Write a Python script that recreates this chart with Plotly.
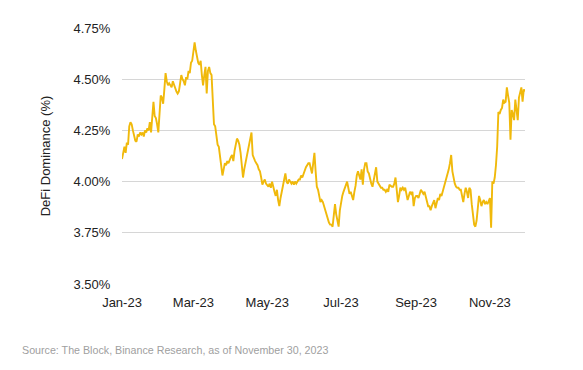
import pandas as pd
import plotly.graph_objects as go

# Daily DeFi dominance (%), Jan 1 - Nov 30, 2023
jan_vals = [4.11, 4.15, 4.17, 4.14, 4.19, 4.18, 4.27, 4.29, 4.28, 4.25, 4.23, 4.20, 4.195, 4.23, 4.22, 4.24,
            4.23, 4.24, 4.22, 4.25, 4.24, 4.26, 4.25, 4.29, 4.24, 4.33, 4.39, 4.32, 4.31, 4.28, 4.24]
feb_vals = [4.33, 4.42, 4.41, 4.38, 4.45, 4.53, 4.49, 4.47, 4.48, 4.47, 4.46, 4.49, 4.47, 4.46, 4.44, 4.43,
            4.44, 4.48, 4.52, 4.50, 4.49, 4.47, 4.51, 4.50, 4.54, 4.53, 4.58, 4.59]
mar_vals = [4.63, 4.68, 4.64, 4.60, 4.58, 4.57, 4.59, 4.52, 4.47, 4.52, 4.56, 4.43, 4.54, 4.56, 4.53, 4.52,
            4.38, 4.28, 4.27, 4.22, 4.18, 4.17, 4.13, 4.09, 4.03, 4.06, 4.09, 4.08, 4.10, 4.09, 4.11]
apr_vals = [4.12, 4.13, 4.10, 4.15, 4.18, 4.21, 4.20, 4.18, 4.14, 4.08, 4.02, 4.06, 4.09, 4.13, 4.16, 4.18,
            4.21, 4.24, 4.13, 4.11, 4.10, 4.09, 4.08, 4.06, 4.05, 4.02, 3.985, 4.00, 4.01, 3.99]
may_vals = [3.98, 3.975, 3.99, 3.97, 4.00, 3.97, 3.95, 3.93, 3.96, 3.91, 3.88, 3.92, 3.96, 3.98, 4.01, 4.04,
            4.00, 3.99, 4.01, 4.00, 3.99, 4.00, 3.985, 4.00, 3.99, 4.00, 4.01, 4.01, 4.03, 4.02, 4.04]
jun_vals = [4.06, 4.07, 4.08, 4.09, 4.09, 4.07, 4.04, 4.09, 4.14, 4.05, 3.975, 3.96, 3.93, 3.90, 3.91, 3.90,
            3.88, 3.86, 3.83, 3.82, 3.80, 3.79, 3.79, 3.78, 3.83, 3.89, 3.84, 3.815, 3.78, 3.86]
jul_vals = [3.91, 3.93, 3.95, 3.97, 3.98, 4.00, 3.97, 3.94, 3.95, 3.93, 3.91, 3.95, 3.98, 4.03, 4.05, 4.03,
            4.01, 4.06, 3.985, 4.06, 4.09, 4.09, 4.05, 4.04, 4.01, 3.99, 3.975, 4.01, 4.05, 4.07, 4.00]
aug_vals = [3.99, 3.98, 3.97, 3.97, 3.96, 3.96, 3.95, 3.96, 3.95, 3.985, 3.98, 3.975, 3.975, 3.99, 4.02, 3.95,
            3.90, 3.93, 3.97, 3.96, 3.97, 3.96, 3.97, 3.94, 3.91, 3.93, 3.95, 3.94, 3.95, 3.88, 3.92]
sep_vals = [3.93, 3.93, 3.92, 3.94, 3.96, 3.95, 3.94, 3.95, 3.93, 3.90, 3.88, 3.88, 3.86, 3.88, 3.90, 3.91,
            3.87, 3.90, 3.92, 3.91, 3.94, 3.93, 3.95, 3.98, 4.00, 4.01, 4.03, 4.06, 4.09, 4.13]
oct_vals = [4.05, 4.01, 3.99, 3.975, 3.97, 3.97, 3.96, 3.96, 3.93, 3.90, 3.94, 3.97, 3.95, 3.92, 3.97, 3.96,
            3.89, 3.83, 3.79, 3.78, 3.81, 3.87, 3.93, 3.91, 3.88, 3.90, 3.91, 3.89, 3.90, 3.89, 3.91]
nov_vals = [3.92, 3.775, 4.00, 3.99, 4.02, 4.08, 4.17, 4.34, 4.33, 4.35, 4.36, 4.40, 4.385, 4.39, 4.46, 4.42,
            4.385, 4.205, 4.35, 4.33, 4.30, 4.40, 4.36, 4.30, 4.41, 4.43, 4.46, 4.39, 4.45, 4.44]

dominance = (jan_vals + feb_vals + mar_vals + apr_vals + may_vals + jun_vals
             + jul_vals + aug_vals + sep_vals + oct_vals + nov_vals)
dates = pd.date_range("2023-01-01", periods=len(dominance), freq="D")

x_tick_dates = ["2023-01-01", "2023-03-01", "2023-05-01", "2023-07-01", "2023-09-01", "2023-11-01"]
y_tick_vals = [3.50, 3.75, 4.00, 4.25, 4.50, 4.75]
y_tick_text = ["3.50%", "3.75%", "4.00%", "4.25%", "4.50%", "4.75%"]

font_family = "Arial, Liberation Sans, sans-serif"

fig = go.Figure()
fig.add_trace(go.Scatter(
    x=dates, y=dominance, mode="lines",
    line=dict(color="#F0B90B", width=1.9),
    hoverinfo="skip", showlegend=False,
))

# page body adds an 8px offset, so the figure is sized/margined accordingly
fig.update_layout(
    width=575, height=362,
    margin=dict(l=114, r=58, t=20, b=86),
    paper_bgcolor="white", plot_bgcolor="white",
    font=dict(family=font_family, size=13, color="#222222"),
    xaxis=dict(
        range=["2023-01-01", "2023-11-30"],
        tickvals=x_tick_dates, tickformat="%b-%y",
        showgrid=False, zeroline=False, showline=False,
        ticks="outside", ticklen=6, tickcolor="rgba(0,0,0,0)",
        tickfont=dict(size=13, color="#222222"),
    ),
    yaxis=dict(
        range=[3.5, 4.75],
        tickvals=y_tick_vals, ticktext=y_tick_text,
        showgrid=True, gridcolor="#d6d6d6", gridwidth=1,
        zeroline=False, showline=False,
        ticks="outside", ticklen=8, tickcolor="rgba(0,0,0,0)",
        tickfont=dict(size=13, color="#222222"),
        title=dict(text="DeFi Dominance (%)", font=dict(size=13, color="#222222"), standoff=19),
    ),
    annotations=[dict(
        text="Source: The Block, Binance Research, as of November 30, 2023",
        xref="paper", yref="paper", x=-(114 - 12) / 403, y=-(342 - 276) / 256,
        xanchor="left", yanchor="middle", showarrow=False,
        font=dict(size=10.7, color="#a0a0a0", family=font_family),
    )],
)

fig.write_html("out.html")
